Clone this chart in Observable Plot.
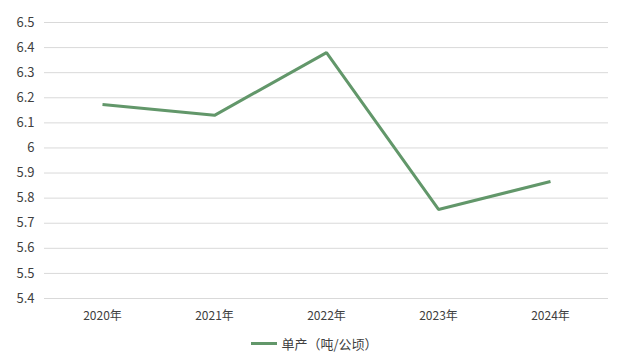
<!DOCTYPE html>
<html>
<head>
<meta charset="utf-8">
<script src="https://cdn.jsdelivr.net/npm/d3@7"></script>
<script src="https://cdn.jsdelivr.net/npm/@observablehq/plot@0.6"></script>
<style>
  body { margin: 0; background: #fff; }
  #chart { width: 623px; }
  .legend { width: 623px; display: flex; justify-content: center; align-items: center; height: 26px;
    font-family: "Noto Sans CJK SC", sans-serif; font-size: 13px; color: #404040; margin-top: 0px; }
  .legend .sw { width: 26px; height: 3px; background: #62976a; margin-right: 4px; margin-left: 6px; }
</style>
</head>
<body>
<div id="chart"></div>
<script>
const years = ["2020年", "2021年", "2022年", "2023年", "2024年"];
const yields = [6.173, 6.13, 6.38, 5.755, 5.866];
const yTicks = [5.4, 5.5, 5.6, 5.7, 5.8, 5.9, 6.0, 6.1, 6.2, 6.3, 6.4, 6.5];
const seriesName = "单产（吨/公顷）";

const data = years.map((y, i) => ({year: y, value: yields[i]}));

const plot = Plot.plot({
  width: 623,
  height: 330,
  marginLeft: 44,
  marginRight: 15,
  marginTop: 22,
  marginBottom: 32,
  style: {fontFamily: "'Noto Sans CJK SC', sans-serif", fontSize: "12px", color: "#404040", background: "#fff"},
  x: {type: "point", domain: years, padding: 0.5, label: null},
  y: {domain: [5.4, 6.5], label: null},
  marks: [
    Plot.gridY(yTicks, {stroke: "#d9d9d9", strokeOpacity: 1, strokeWidth: 1}),
    Plot.axisY({ticks: yTicks, tickSize: 0, tickPadding: 10, label: null,
      tickFormat: d => String(+d.toFixed(1)), fontSize: 13}),
    Plot.axisX({tickSize: 0, tickPadding: 13, label: null, fontSize: 12}),
    Plot.line(data, {x: "year", y: "value", stroke: "#62976a", strokeWidth: 3, strokeLinejoin: "miter", strokeLinecap: "butt"})
  ]
});
document.getElementById("chart").appendChild(plot);

const legend = document.createElement("div");
legend.className = "legend";
legend.innerHTML = `<span class="sw"></span><span>${seriesName}</span>`;
document.body.appendChild(legend);
</script>
</body>
</html>
